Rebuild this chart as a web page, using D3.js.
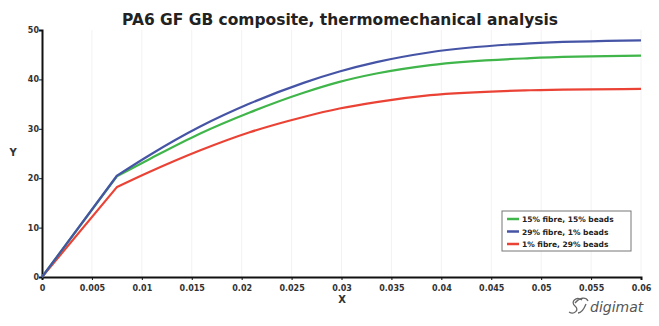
<!DOCTYPE html>
<html><head><meta charset="utf-8">
<script src="https://cdn.jsdelivr.net/npm/d3@7/dist/d3.min.js"></script>
<style>body{margin:0;background:#fff}svg{display:block}</style>
</head><body><svg id="c" width="659" height="326"></svg>
<script>
const xValues = [0, 0.0075, 0.0108, 0.0158, 0.0208, 0.0262, 0.0298, 0.0335, 0.0389, 0.0489, 0.06];
const green = [0, 20.4, 23.9, 29.0, 33.3, 37.3, 39.5, 41.2, 42.9, 44.3, 44.8];
const blue  = [0, 20.5, 24.7, 30.4, 35.1, 39.3, 41.6, 43.5, 45.5, 47.3, 47.9];
const red   = [0, 18.2, 21.3, 25.6, 29.3, 32.4, 34.1, 35.4, 36.8, 37.8, 38.1];
const seriesNames = ["15% fibre, 15% beads", "29% fibre, 1% beads", "1% fibre, 29% beads"];
const seriesColors = ["#3fb54a", "#4654a6", "#ea4336"];
const xTicks = [0,0.005,0.01,0.015,0.02,0.025,0.03,0.035,0.04,0.045,0.05,0.055,0.06];
const yTicks = [0,10,20,30,40,50];
const title = "PA6 GF GB composite, thermomechanical analysis";

const svg = d3.select("#c");
const x = d3.scaleLinear().domain([0,0.06]).range([42,641]);
const y = d3.scaleLinear().domain([0,50]).range([277,30]);
const font = "'DejaVu Sans', Verdana, sans-serif";

// faint grid
svg.append("g").selectAll("line").data(xTicks.slice(1)).join("line")
  .attr("x1", d=>x(d)).attr("x2", d=>x(d)).attr("y1", 30).attr("y2", 277)
  .attr("stroke", "#f2f2f2").attr("stroke-width", 1);

// title
svg.append("text").attr("x", 340).attr("y", 25).attr("text-anchor","middle")
  .attr("font-family", font).attr("font-weight","bold").attr("font-size", 15)
  .attr("fill","#222").attr("textLength", 436).attr("lengthAdjust","spacingAndGlyphs").text(title);

// axes
const xAxis = d3.axisBottom(x).tickValues(xTicks).tickSize(3).tickFormat(d=>d===0?"0":String(+d.toFixed(3)));
const gx = svg.append("g").attr("transform","translate(0,277)").call(xAxis);
gx.select(".domain").attr("stroke","#111").attr("stroke-width",2);
gx.selectAll(".tick line").attr("stroke","#111");
gx.selectAll(".tick text").attr("font-family",font).attr("font-weight","bold").attr("font-size",8).attr("fill","#333").attr("dy","1.05em");

const yAxis = d3.axisLeft(y).tickValues(yTicks).tickSize(3);
const gy = svg.append("g").attr("transform","translate(42,0)").call(yAxis);
gy.select(".domain").attr("stroke","#111").attr("stroke-width",2);
gy.selectAll(".tick line").attr("stroke","#111");
gy.selectAll(".tick text").attr("font-family",font).attr("font-weight","bold").attr("font-size",8).attr("fill","#333").attr("x",-3);

svg.append("text").attr("x",13).attr("y",156).attr("text-anchor","middle")
  .attr("font-family",font).attr("font-weight","bold").attr("font-size",10).attr("fill","#333").text("Y");
svg.append("text").attr("x",342).attr("y",303).attr("text-anchor","middle")
  .attr("font-family",font).attr("font-weight","bold").attr("font-size",10).attr("fill","#333").text("X");

// lines: linear elastic part to the knee, smooth curve afterwards
const lineLin = d3.line().x(d=>x(d[0])).y(d=>y(d[1]));
const lineMono = d3.line().x(d=>x(d[0])).y(d=>y(d[1])).curve(d3.curveMonotoneX);
const data = [green, blue, red];
[2,0,1].forEach(i=>{
  const pts = xValues.map((xv,j)=>[xv,data[i][j]]);
  const d = lineLin(pts.slice(0,2)) + "L" + lineMono(pts.slice(1)).slice(1);
  svg.append("path").attr("d", d).attr("fill","none").attr("stroke", seriesColors[i])
    .attr("stroke-width",2.2).attr("stroke-linejoin","round");
});

// legend
const lg = svg.append("g").attr("transform","translate(502,211)");
lg.append("rect").attr("width",129).attr("height",40).attr("fill","#fff").attr("stroke","#777").attr("stroke-width",1);
seriesNames.forEach((n,i)=>{
  const yy = 8 + i*12.5;
  lg.append("line").attr("x1",5).attr("x2",17).attr("y1",yy).attr("y2",yy).attr("stroke",seriesColors[i]).attr("stroke-width",2.5);
  lg.append("text").attr("x",20).attr("y",yy+3).attr("font-family",font).attr("font-weight","bold").attr("font-size",7.5).attr("fill","#222").text(n);
});

// digimat logo
const logo = svg.append("g").attr("transform","translate(572,306)");
logo.append("path").attr("d","M10,-6 C4,-10 -2,-4 3,0 C8,4 2,9 -3,6 M3,-3 C8,-9 14,-9 16,-5 M6,7 C10,7 12,3 14,-2")
  .attr("fill","none").attr("stroke","#666").attr("stroke-width",1.3);
logo.append("text").attr("x",18).attr("y",6).attr("font-family",font).attr("font-style","italic").attr("font-size",14).attr("fill","#555").text("digimat");
</script></body></html>
